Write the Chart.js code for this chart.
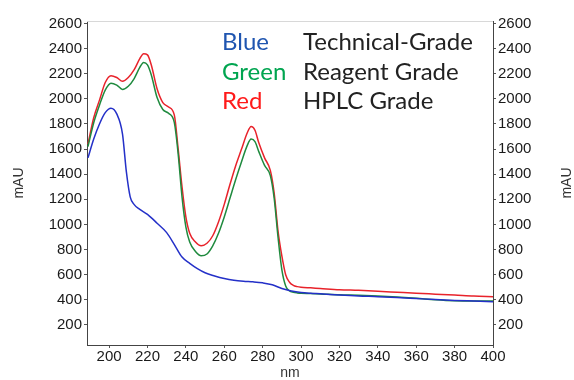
<!DOCTYPE html>
<html>
<head>
<meta charset="utf-8">
<script src="https://cdn.jsdelivr.net/npm/chart.js@4/dist/chart.umd.min.js"></script>
<style>
  html, body { margin: 0; padding: 0; background: #fff; }
  #wrap { width: 574px; height: 380px; }
</style>
</head>
<body>
<div id="wrap"><canvas id="uvChart"></canvas></div>
<script>
// wavelengths (nm) shared by the reagent and HPLC traces
const nmGrade = [189, 192, 195, 198, 201, 204, 207, 210, 213, 216, 218, 220, 222, 225, 228, 231, 234, 236, 238, 240,
  242, 245, 248, 251, 254, 257, 260, 263, 266, 269, 272, 274, 276, 278, 281, 284, 286, 288, 290, 292,
  294, 296, 298, 300, 305, 310, 320, 330, 340, 350, 360, 370, 380, 390, 400];
const hplcGrade = [1640, 1850, 1990, 2130, 2185, 2170, 2140, 2170, 2230, 2320, 2360, 2350, 2270, 2080, 1970, 1935, 1870, 1600, 1300, 1060,
  930, 860, 830, 850, 910, 1020, 1160, 1320, 1470, 1600, 1730, 1780, 1750, 1650, 1530, 1430, 1250, 950, 750, 600,
  540, 515, 505, 500, 495, 490, 480, 475, 468, 460, 452, 445, 438, 430, 425];
const reagentGrade = [1620, 1810, 1950, 2070, 2125, 2110, 2075, 2100, 2160, 2250, 2290, 2270, 2190, 2010, 1915, 1885, 1810, 1560, 1220, 980,
  860, 785, 750, 765, 830, 930, 1060, 1210, 1360, 1500, 1630, 1680, 1660, 1580, 1470, 1390, 1210, 900, 640, 510,
  470, 460, 455, 452, 450, 447, 440, 436, 430, 422, 412, 400, 392, 390, 390];

// technical grade was sampled on its own wavelength grid
const nmTech = [189, 192, 195, 198, 201, 204, 207, 209, 211, 213, 216, 220, 225, 230, 234, 238, 242, 246, 250, 255,
  260, 265, 270, 275, 280, 285, 290, 295, 300, 305, 310, 320, 330, 340, 350, 360, 370, 380, 390, 400];
const technicalGrade = [1530, 1680, 1800, 1890, 1925, 1880, 1720, 1420, 1220, 1160, 1120, 1080, 1010, 935, 840, 740, 690, 648, 615, 590,
  570, 556, 548, 543, 535, 520, 490, 470, 458, 452, 448, 438, 430, 425, 418, 410, 402, 395, 390, 385];

const xTickValues = [200, 220, 240, 260, 280, 300, 320, 340, 360, 380, 400];
const yTickValues = [200, 400, 600, 800, 1000, 1200, 1400, 1600, 1800, 2000, 2200, 2400, 2600];
const xRange = [188.5, 400];
const yRange = [40, 2620];

const keyWords = ["Blue", "Green", "Red"];
const gradeNames = ["Technical-Grade", "Reagent Grade", "HPLC Grade"];

function pairs(xs, ys) {
  return xs.map(function (x, i) { return { x: x, y: ys[i] }; });
}

function fixedTicks(values) {
  return function (scale) {
    scale.ticks = values.map(function (v) { return { value: v }; });
  };
}

const tickFont = { family: "'Liberation Sans', Arial, sans-serif", size: 15 };
const inkColor = "#1a1a1a";
const plainLabel = function (v) { return String(v); };

function yScale(position, width) {
  return {
    type: "linear",
    position: position,
    min: yRange[0],
    max: yRange[1],
    afterBuildTicks: fixedTicks(yTickValues),
    afterFit: function (scale) { scale.width = width; },
    ticks: { font: tickFont, color: inkColor, padding: 2, autoSkip: false, callback: plainLabel },
    grid: { drawOnChartArea: false, tickLength: 3, color: "#555" },
    border: { color: "#444", width: 1 }
  };
}

// keyword legend + right-hand axis title
const annotate = {
  id: "annotate",
  beforeDatasetsDraw(chart) {
    const a = chart.chartArea;
    const ctx = chart.ctx;
    ctx.save();
    ctx.strokeStyle = "#d8d8d8";
    ctx.lineWidth = 1;
    ctx.beginPath();
    ctx.moveTo(a.left, a.top + 0.5);
    ctx.lineTo(a.right, a.top + 0.5);
    ctx.stroke();
    ctx.restore();
  },
  afterDraw(chart) {
    const a = chart.chartArea;
    const ctx = chart.ctx;
    const keyColors = ["#1f55b0", "#00a550", "#ff1a1a"];
    ctx.save();
    ctx.font = "24px Lato";
    ctx.textBaseline = "alphabetic";
    ctx.textAlign = "left";
    for (let i = 0; i < keyWords.length; i++) {
      const y = a.top + 29 + i * 29.5;
      ctx.fillStyle = keyColors[i];
      ctx.fillText(keyWords[i], a.left + 135, y);
      ctx.fillStyle = "#222";
      ctx.fillText(gradeNames[i], a.left + 216, y);
    }
    ctx.font = "14px 'Liberation Sans', Arial, sans-serif";
    ctx.fillStyle = "#333";
    ctx.textAlign = "center";
    ctx.textBaseline = "middle";
    ctx.translate(567, (a.top + a.bottom) / 2);
    ctx.rotate(-Math.PI / 2);
    ctx.fillText("mAU", 0, 0);
    ctx.restore();
  }
};

const ctx = document.getElementById("uvChart").getContext("2d");
new Chart(ctx, {
  type: "line",
  data: {
    datasets: [
      { label: "Technical-Grade", data: pairs(nmTech, technicalGrade), borderColor: "#2430c8" },
      { label: "Reagent Grade", data: pairs(nmGrade, reagentGrade), borderColor: "#1f8a3e" },
      { label: "HPLC Grade", data: pairs(nmGrade, hplcGrade), borderColor: "#e8232b" }
    ].map(function (d) {
      return Object.assign(d, { borderWidth: 1.5, pointRadius: 0, fill: false, cubicInterpolationMode: "monotone" });
    })
  },
  options: {
    responsive: true,
    maintainAspectRatio: false,
    animation: false,
    layout: { padding: { top: 21, left: 0, right: 0, bottom: 0 } },
    plugins: { legend: { display: false }, tooltip: { enabled: false } },
    scales: {
      x: {
        type: "linear",
        min: xRange[0],
        max: xRange[1],
        afterBuildTicks: fixedTicks(xTickValues),
        afterFit: function (scale) { scale.height = 35; },
        ticks: { font: tickFont, color: inkColor, padding: 0, maxRotation: 0, autoSkip: false, callback: plainLabel },
        grid: { drawOnChartArea: false, tickLength: 3, color: "#555" },
        border: { color: "#444", width: 1 },
        title: {
          display: true, text: "nm", color: "#333",
          font: { family: "'Liberation Sans', Arial, sans-serif", size: 14, lineHeight: 1 },
          padding: { top: 0, bottom: 0 }
        }
      },
      y: Object.assign(yScale("left", 87), {
        title: {
          display: true, text: "mAU", color: "#333",
          font: { family: "'Liberation Sans', Arial, sans-serif", size: 14, lineHeight: 1.2 },
          padding: { top: 10.5, bottom: 0 }
        }
      }),
      y2: yScale("right", 81)
    }
  },
  plugins: [annotate]
});
</script>
</body>
</html>
